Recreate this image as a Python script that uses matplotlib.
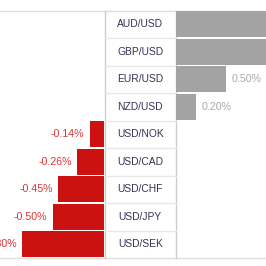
import matplotlib
matplotlib.use("Agg")
import matplotlib.pyplot as plt

# 数据
pairs = ["AUD/USD", "GBP/USD", "EUR/USD", "NZD/USD", "USD/NOK",
         "USD/CAD", "USD/CHF", "USD/JPY", "USD/SEK"]
changes = [1.10, 1.05, 0.50, 0.20, -0.14, -0.26, -0.45, -0.50, -0.80]

plt.rcParams['font.family'] = ['Liberation Sans', 'DejaVu Sans']

W = H = 266
fig = plt.figure(figsize=(W / 100, H / 100), dpi=100)
fig.patch.set_facecolor("white")

top_px, bot_px = 10.5, 258.0
left_end, mid_end = 105.0, 175.5
y0 = (H - bot_px) / H
hh = (bot_px - top_px) / H

# 背景线条
bg = fig.add_axes([0, 0, 1, 1])
bg.set_xlim(0, W)
bg.set_ylim(H, 0)
bg.axis("off")
bg.plot([0, W], [top_px, top_px], color="#dddddd", lw=1)
bg.plot([0, W], [bot_px, bot_px], color="#dddddd", lw=1)
bg.plot([left_end, left_end], [top_px, bot_px], color="#cccccc", lw=1)
bg.plot([mid_end, mid_end], [top_px, bot_px], color="#cccccc", lw=1)
row_h = (bot_px - top_px) / len(pairs)
for i, p in enumerate(pairs):
    yc = top_px + row_h * (i + 0.5)
    if i > 0:
        yl = top_px + row_h * i
        bg.plot([left_end, mid_end], [yl, yl], color="#e8e8e8", lw=1)
    bg.text((left_end + mid_end) / 2, yc, p, ha="center", va="center",
            fontsize=7.4, color="#333355")

# 左侧负值
axl = fig.add_axes([0, y0, (left_end - 1) / W, hh])
axl.set_xlim(-(left_end - 1) / 102.0, 0)
# 右侧正值
axr = fig.add_axes([(mid_end + 0.5) / W, y0, (W - mid_end - 0.5) / W, hh])
xmax_r = (W - mid_end - 0.5) / 100.0
axr.set_xlim(0, xmax_r)

for ax in (axl, axr):
    ax.set_ylim(len(pairs) - 0.5, -0.5)
    ax.axis("off")
    ax.patch.set_alpha(0)

for i, v in enumerate(changes):
    if v < 0:
        axl.barh(i, v, height=0.95, color="#cc1111", edgecolor="none")
        axl.annotate("%.2f%%" % v, (v, i), xytext=(-4, 0), textcoords="offset points",
                     ha="right", va="center", fontsize=7.7, color="#e03333")
    else:
        axr.barh(i, v, height=0.95, color="#a3a3a3", edgecolor="none")
        if v < xmax_r:  # 超出画面的标签不画
            axr.annotate("%.2f%%" % v, (v, i), xytext=(4, 0), textcoords="offset points",
                         ha="left", va="center", fontsize=7.7, color="#aaaaaa")

fig.savefig("out.png", dpi=100)
